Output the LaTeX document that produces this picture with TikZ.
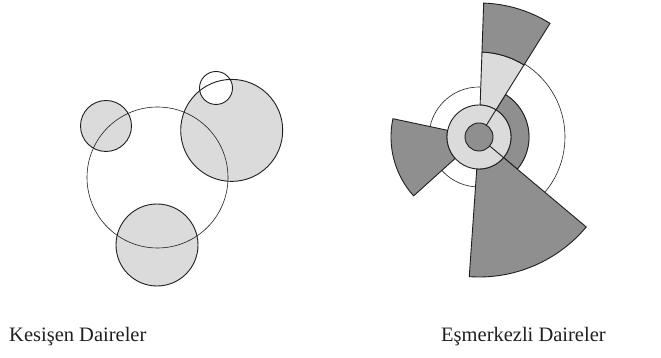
\documentclass[tikz,border=0pt]{standalone}
\usepackage{fontspec}
\setmainfont{Liberation Serif}
\definecolor{lightfill}{gray}{0.86}
\definecolor{darkfill}{gray}{0.56}
\definecolor{ink}{gray}{0.12}
\begin{document}
\begin{tikzpicture}[x=1pt,y=1pt,
  outline/.style={draw=ink, line width=0.9pt},
  thinline/.style={draw=ink, line width=0.6pt},
  caption/.style={font=\fontsize{20.5}{24}\selectfont, anchor=base west, inner sep=0pt, text=ink}]
\useasboundingbox (0,0) rectangle (661,358);
% ---------- Kesisen Daireler ----------
\fill[lightfill] (106,232) circle[radius=25.5pt];
\fill[lightfill] (231.7,227.6) circle[radius=51pt];
\fill[lightfill] (157,113) circle[radius=41pt];
\fill[white] (216,270) circle[radius=16.5pt];
\draw[thinline] (157.5,180.5) circle[radius=70.5pt];
\draw[outline] (106,232) circle[radius=25.5pt];
\draw[outline] (231.7,227.6) circle[radius=51pt];
\draw[outline] (157,113) circle[radius=41pt];
\draw[outline] (216,270) circle[radius=16.5pt];
% ---------- Esmerkezli Daireler ----------
\begin{scope}[shift={(479,221)}]
  \draw[thinline] (0,0) circle[radius=50pt];
  \draw[thinline] (-40:86pt) arc[start angle=-40,end angle=58,radius=86pt];
  % right dark band
  \draw[outline, fill=darkfill] (-40:32pt) -- (-40:50pt) arc[start angle=-40,end angle=58,radius=50pt]
     -- (58:32pt) arc[start angle=58,end angle=-40,radius=32pt] -- cycle;
  % top sector, light part
  \draw[outline, fill=lightfill] (58:32pt) -- (58:85pt) arc[start angle=58,end angle=88,radius=85pt]
     -- (88:32pt) arc[start angle=88,end angle=58,radius=32pt] -- cycle;
  % top sector, dark part
  \draw[outline, fill=darkfill] (58:85pt) -- (58:134pt) arc[start angle=58,end angle=88,radius=134pt]
     -- (88:85pt) arc[start angle=88,end angle=58,radius=85pt] -- cycle;
  % left sector
  \draw[outline, fill=darkfill] (168:32pt) -- (168:88pt) arc[start angle=168,end angle=222,radius=88pt]
     -- (222:32pt) arc[start angle=222,end angle=168,radius=32pt] -- cycle;
  % bottom sector
  \draw[outline, fill=darkfill] (-94:32pt) -- (-94:140pt) arc[start angle=-94,end angle=-40,radius=140pt]
     -- (-40:32pt) arc[start angle=-40,end angle=-94,radius=32pt] -- cycle;
  % ring and core
  \draw[outline, fill=lightfill] (0,0) circle[radius=32pt];
  \draw[outline, fill=darkfill] (0,0) circle[radius=14pt];
  \draw[outline] (58:14pt) -- (58:32pt);
  \draw[outline] (-40:14pt) -- (-40:32pt);
\end{scope}
% ---------- captions ----------
\node[caption] (capleft) at (9,16) {Kesişen Daireler};
\node[caption] (capright) at (441,16) {Eşmerkezli Daireler};
\end{tikzpicture}
\end{document}
